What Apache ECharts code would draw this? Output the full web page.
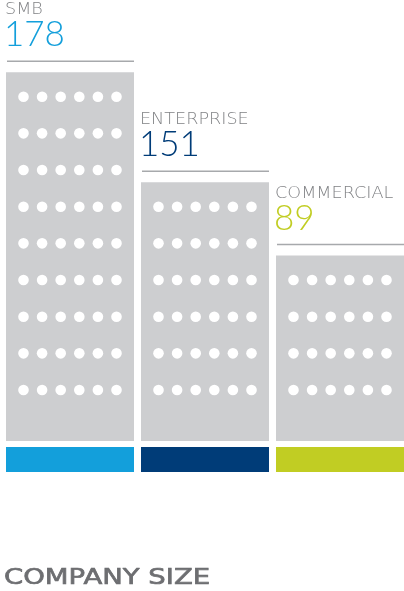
<!DOCTYPE html>
<html>
<head>
<meta charset="utf-8">
<script src="https://cdn.jsdelivr.net/npm/echarts@6/dist/echarts.min.js"></script>
<style>
html,body{margin:0;padding:0;background:#fff;}
#chart{width:404px;height:591px;}
</style>
</head>
<body>
<div id="chart"></div>
<script>
const categories = ['SMB', 'ENTERPRISE', 'COMMERCIAL'];
const values = [178, 151, 89];
const floors = [9, 6, 4];
const colors = ['#139FDB', '#003C78', '#C1CD23'];
const title = 'COMPANY SIZE';

const chart = echarts.init(document.getElementById('chart'), null, {renderer: 'canvas'});

const NUMFONT = '"Lato", "Open Sans", sans-serif';
const LABFONT = '"DejaVu Sans", sans-serif';

function renderItem(params, api) {
  const i = api.value(0);
  const nFloors = api.value(1);
  const val = api.value(2);
  const base = api.coord([i, 0]);
  const cx = base[0];
  const bottom = base[1];
  const top = api.coord([i, nFloors + 1.06])[1];
  const w = 128;
  const x0 = cx - w / 2;
  const children = [];
  children.push({type: 'rect', shape: {x: x0, y: top, width: w, height: bottom - top}, style: {fill: '#CDCED0'}});
  for (let r = 0; r < nFloors; r++) {
    const y = api.coord([i, 1.39 + r])[1];
    for (let c = 0; c < 6; c++) {
      children.push({type: 'circle', shape: {cx: cx + (c - 2.5) * 18.6, cy: y, r: 5.3}, style: {fill: '#ffffff'}});
    }
  }
  children.push({type: 'rect', shape: {x: x0, y: bottom + 6, width: w, height: 25}, style: {fill: colors[params.dataIndex]}});
  const ly = top - 11;
  children.push({type: 'line', shape: {x1: x0 + 1, y1: ly, x2: x0 + w, y2: ly}, style: {stroke: '#A7A9AC', lineWidth: 1.5}});
  children.push({type: 'text', x: x0 - 2, y: ly - 26, style: {text: String(val), x: 0, y: 0, font: '300 35px ' + NUMFONT, fill: colors[params.dataIndex], textAlign: 'left', verticalAlign: 'middle'}});
  children.push({type: 'text', x: x0 - 1, y: ly - 51, scaleX: 1.1, style: {text: categories[params.dataIndex], x: 0, y: 0, font: '200 16px ' + LABFONT, fill: '#808285', textAlign: 'left', verticalAlign: 'middle'}});
  return {type: 'group', children: children};
}

chart.setOption({
  animation: false,
  graphic: [{
    type: 'text',
    x: 4,
    y: 578,
    scaleX: 1.25,
    style: {text: title, x: 0, y: 0, font: '22px "DejaVu Sans", sans-serif', fill: '#6D6E71', stroke: '#6D6E71', lineWidth: 0.7, textAlign: 'left', verticalAlign: 'middle'}
  }],
  grid: {left: 0, top: 1, width: 404, height: 440},
  xAxis: {type: 'value', min: -0.5185, max: 2.4741, show: false},
  yAxis: {type: 'value', min: 0, max: 12, show: false},
  series: [{
    type: 'custom',
    renderItem: renderItem,
    clip: false,
    data: categories.map((c, i) => [i, floors[i], values[i]])
  }]
});
</script>
</body>
</html>
